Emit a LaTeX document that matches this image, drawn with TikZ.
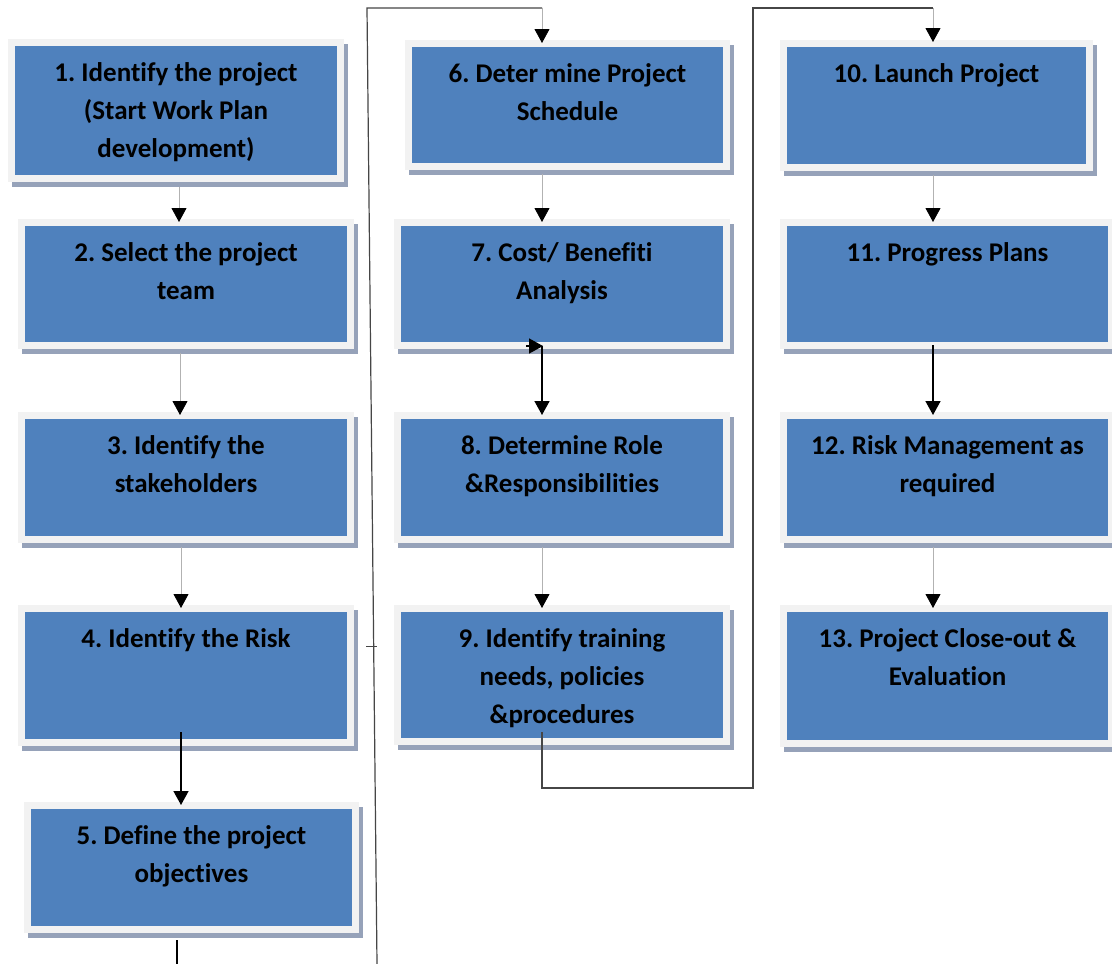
\documentclass[tikz,border=0pt]{standalone}
\usepackage{fontspec}
\setmainfont{Carlito}[Ligatures={NoCommon}]
\usetikzlibrary{arrows.meta,shadows}

\definecolor{boxblue}{RGB}{79,129,189}
\definecolor{framegray}{RGB}{242,242,242}
\definecolor{shadowblue}{RGB}{150,162,185}
\definecolor{linkgray}{RGB}{178,178,178}
\definecolor{darklink}{RGB}{70,70,70}

% One step of the work plan: light frame, blue face, flat shadow, title at the top
\newcommand\flowstep[6]{%
  \node[stepbox, minimum width={#4-#2+14}, minimum height={#5-#3+14}] (#1) at (#2-7,#3-7) {};
  \node[steptext] (#1t) at ([yshift=-23pt]#1.north) {#6};}

\begin{document}
\begin{tikzpicture}[x=1pt,y=-1pt,
  stepbox/.style={anchor=north west, inner sep=0pt, outer sep=0pt, fill=framegray,
    general shadow={shadow xshift=3.5pt, shadow yshift=-5pt, fill=shadowblue},
    path picture={\fill[boxblue]
      ([shift={(7pt,-7pt)}]path picture bounding box.north west) rectangle
      ([shift={(-7pt,7pt)}]path picture bounding box.south east);}},
  steptext/.style={anchor=north, inner sep=0pt, align=center,
    font=\fontsize{27pt}{38pt}\selectfont\bfseries\frenchspacing},
  headarrow/.style={-{Triangle[width=15pt,length=14pt,color=black]}},
  thinlink/.style={draw=linkgray, line width=0.8pt},
  blacklink/.style={draw=black, line width=1.6pt},
  returnlink/.style={draw=darklink, line width=1.2pt}]

\useasboundingbox[fill=white] (0,0) rectangle (1112,964);

% column 1
\flowstep{b1}{15}{46}{337}{175}{1. Identify the project\\(Start Work Plan\\development)}
\flowstep{b2}{25}{226}{347}{342}{2. Select the project\\team}
\flowstep{b3}{25}{419}{347}{536}{3. Identify the\\stakeholders}
\flowstep{b4}{25}{612}{347}{739}{4. Identify the Risk}
\flowstep{b5}{31}{809}{352}{926}{5. Define the project\\objectives}
% column 2
\flowstep{b6}{412}{47}{723}{163}{6. Deter mine Project\\Schedule}
\flowstep{b7}{401}{226}{723}{342}{7. Cost/ Benefiti\\Analysis}
\flowstep{b8}{401}{419}{723}{536}{8. Determine Role\\\&Responsibilities}
\flowstep{b9}{401}{612}{723}{738}{9. Identify training\\needs, policies\\\&procedures}
% column 3
\flowstep{b10}{787}{47}{1086}{164}{10. Launch Project}
\flowstep{b11}{787}{226}{1108}{342}{11. Progress Plans}
\flowstep{b12}{787}{419}{1108}{536}{12. Risk Management as\\required}
\flowstep{b13}{787}{612}{1108}{740}{13. Project Close-out \&\\Evaluation}

% vertical guides of the connectors
\coordinate (xa) at (179,0);
\coordinate (xa2) at (180,0);
\coordinate (xa3) at (181,0);
\coordinate (xb) at (542,0);
\coordinate (xc) at (933,0);
\coordinate (e5) at (177,964);
\coordinate (lb) at (377,964);
\coordinate (lt) at (367,8);
\coordinate (xr) at (753,788);
\coordinate (tk) at (372,646);

% column 1 connectors
\draw[thinlink, headarrow] ([yshift=-5pt]b1.south -| xa) -- ([yshift=-3pt]b2.north -| xa);
\draw[thinlink, headarrow] ([yshift=-4pt]b2.south -| xa2) -- ([yshift=-3pt]b3.north -| xa2);
\draw[thinlink, headarrow] ([yshift=-4pt]b3.south -| xa3) -- ([yshift=-3pt]b4.north -| xa3);
\draw[blacklink, headarrow] ([yshift=14pt]b4.south -| xa3) -- ([yshift=-3pt]b5.north -| xa3);
\draw[blacklink] ([yshift=-7pt]b5.south -| e5) -- (e5);

% return line up to column 2
\draw[returnlink] (lb) -- (lt) -- (lt -| xb);
\draw[thinlink, headarrow] (lt -| xb) -- ([yshift=-3pt]b6.north -| xb);
\draw[returnlink, line width=0.8pt] ([xshift=-6pt]tk) -- ([xshift=5pt]tk);

% column 2 connectors
\draw[thinlink, headarrow] ([yshift=-4pt]b6.south -| xb) -- ([yshift=-3pt]b7.north -| xb);
\draw[blacklink, headarrow] ([yshift=3pt]b7.south -| xb) -- ([yshift=-3pt]b8.north -| xb);
\draw[blacklink, headarrow] ([xshift=-16pt,yshift=3pt]b7.south -| xb) -- ([xshift=1pt,yshift=3pt]b7.south -| xb);
\draw[thinlink, headarrow] ([yshift=-4pt]b8.south -| xb) -- ([yshift=-3pt]b9.north -| xb);

% link from step 9 over to step 10
\draw[returnlink] ([yshift=13pt]b9.south -| xb) |- (xr) -- (xr |- lt) -- (lt -| xc);
\draw[thinlink, headarrow] (lt -| xc) -- ([yshift=-2pt]b10.north -| xc);

% column 3 connectors
\draw[thinlink, headarrow] ([yshift=-4pt]b10.south -| xc) -- ([yshift=-3pt]b11.north -| xc);
\draw[blacklink, headarrow] ([yshift=4pt]b11.south -| xc) -- ([yshift=-3pt]b12.north -| xc);
\draw[thinlink, headarrow] ([yshift=-4pt]b12.south -| xc) -- ([yshift=-3pt]b13.north -| xc);
\end{tikzpicture}
\end{document}
